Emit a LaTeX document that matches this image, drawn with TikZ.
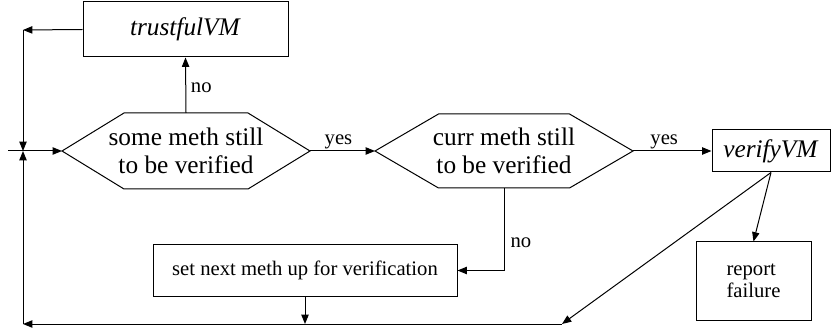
\documentclass[tikz,border=0pt]{standalone}
\usepackage{fontspec}
\setmainfont{Liberation Serif}
\usetikzlibrary{arrows.meta}

\tikzset{
  flowline/.style={line width=0.75pt},
  flowarrow/.style={flowline, -{Triangle[length=7pt,width=5.5pt]}},
  bigtext/.style={font=\fontsize{19}{21}\selectfont, inner sep=0pt, align=center},
  smalltext/.style={font=\fontsize{15.5}{16.5}\selectfont, inner sep=1.5pt},
  procbox/.style={draw, line width=0.75pt, inner sep=0pt},
}

\begin{document}
\begin{tikzpicture}[x=0.75pt,y=0.75pt,yscale=-1,xscale=1]
  \useasboundingbox (0,0) rectangle (831,331);

  %Shape: Rectangle [trustfulVM]
  \node (trust) [procbox, bigtext, minimum width=153.75pt, minimum height=41.25pt] at (185.5,29.5) {\textit{trustfulVM}};
  %Shape: Rectangle [verifyVM]
  \node (verify) [procbox, bigtext, minimum width=88.5pt, minimum height=31.5pt] at (771,151) {\textit{verifyVM}};
  %Shape: Rectangle [report failure]
  \node (report) [procbox, smalltext, minimum width=86.25pt, minimum height=58.5pt, align=left] at (753.5,281) {report\\failure\hspace{4pt}};
  %Shape: Rectangle [set next meth]
  \node (setnext) [procbox, smalltext, minimum width=228pt, minimum height=38.25pt] at (305,270.5) {set next meth up for verification};

  %Shape: Hexagon [some meth]
  \coordinate (someW) at (62,151);
  \coordinate (someE) at (310,151);
  \coordinate (someN) at (186,113);
  \coordinate (someS) at (186,189);
  \draw [flowline] (someW) -- (124,113) -- (248,113) -- (someE) -- (248,189) -- (124,189) -- cycle;
  \node (some) [bigtext] at (186,151) {some meth still\\to be verified};

  %Shape: Hexagon [curr meth]
  \coordinate (currW) at (375,151);
  \coordinate (currE) at (633,151);
  \coordinate (currS) at (504,188);
  \draw [flowline] (currW) -- (438.5,114) -- (569.5,114) -- (currE) -- (569.5,188) -- (438.5,188) -- cycle;
  \node (curr) [bigtext] at (504,151) {curr meth still\\to be verified};

  % loop points
  \coordinate (start) at (8,151);
  \coordinate (join) at (23,151);
  \coordinate (topleft) at (23,30);
  \coordinate (botleft) at (23,324);
  \coordinate (botright) at (562,324);

  %Connectors
  \draw [flowarrow] (start) -- (someW);
  \draw [flowarrow] (someE) -- node [smalltext, midway, above, xshift=-3pt] {yes} (currW);
  \draw [flowarrow] (currE) -- node [smalltext, midway, above, xshift=-6pt] {yes} (verify.west);
  \draw [flowarrow] (someN) -- node [smalltext, pos=0.45, right, xshift=2pt] {no} (trust.south);
  \draw [flowarrow] (currS) |- node [smalltext, pos=0.33, right, xshift=3pt] {no} (setnext.east);
  \draw [flowarrow] (trust.west) -- (topleft);
  \draw [flowarrow] (topleft) -- (join);
  \draw [flowarrow] (verify.south) -- (report.north);
  \draw [flowarrow] (verify.south) -- (botright);
  \draw [flowarrow] (setnext.south) -- (setnext.south |- botright);
  \draw [flowarrow] (botright) -- (botleft);
  \draw [flowarrow] (botleft) -- (join);

\end{tikzpicture}
\end{document}
